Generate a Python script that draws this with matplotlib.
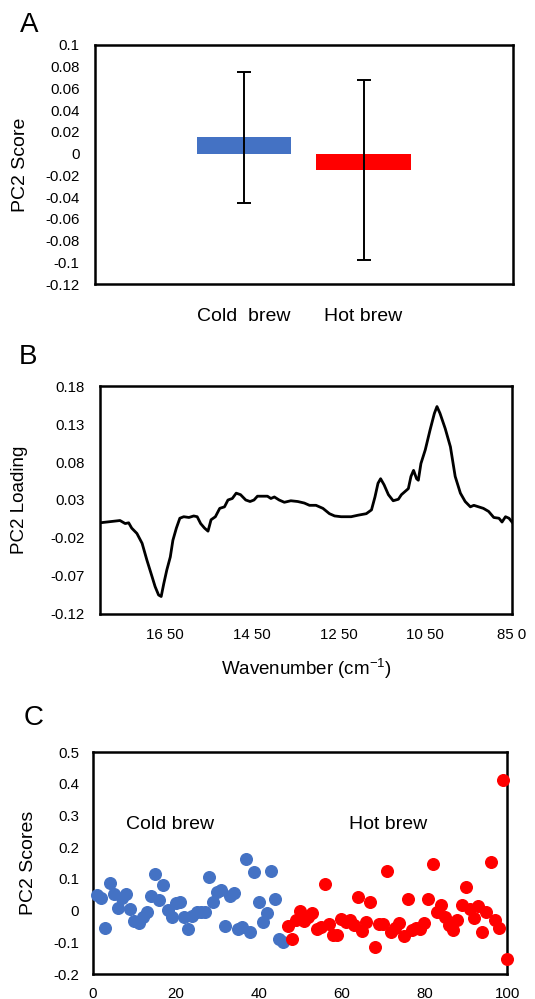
import matplotlib
matplotlib.use("Agg")
import matplotlib.pyplot as plt
import numpy as np

plt.rcParams['font.family'] = ['Liberation Sans', 'DejaVu Sans']

# ---- panel A data
groups = ['Cold  brew', 'Hot brew']
mean_scores = [0.015, -0.015]
score_err = [0.060, 0.083]
bar_colors = ['#4472C4', '#FF0000']

# ---- panel B data (wavenumber, loading)
wavenumber = [1800, 1777, 1754, 1742, 1734, 1727, 1715, 1703, 1692, 1680, 1673, 1665,
              1659, 1653, 1646, 1638, 1632, 1624, 1616, 1607, 1595, 1584, 1576, 1568,
              1559, 1551, 1544, 1534, 1524, 1513, 1505, 1495, 1486, 1476, 1464, 1454,
              1445, 1437, 1425, 1414, 1406, 1398, 1387, 1375, 1360, 1344, 1329, 1317,
              1302, 1286, 1271, 1259, 1244, 1221, 1205, 1186, 1174, 1166, 1159, 1153,
              1145, 1135, 1124, 1112, 1105, 1095, 1089, 1083, 1077, 1070, 1066, 1060,
              1050, 1039, 1029, 1023, 1016, 1004, 992, 981, 969, 958, 946, 938, 927,
              916, 904, 892, 880, 873, 865, 857, 850]
loading = [0.000, 0.0015, 0.003, -0.001, 0.000, -0.007, -0.014, -0.027, -0.049, -0.071,
           -0.084, -0.095, -0.097, -0.080, -0.062, -0.045, -0.023, -0.007, 0.006, 0.008,
           0.007, 0.009, 0.008, -0.001, -0.007, -0.011, 0.004, 0.008, 0.019, 0.021,
           0.030, 0.032, 0.039, 0.037, 0.030, 0.028, 0.030, 0.035, 0.035, 0.035, 0.032,
           0.034, 0.030, 0.027, 0.029, 0.028, 0.026, 0.023, 0.023, 0.019, 0.012, 0.009,
           0.008, 0.008, 0.010, 0.012, 0.017, 0.034, 0.052, 0.058, 0.050, 0.037, 0.029,
           0.031, 0.037, 0.042, 0.045, 0.061, 0.069, 0.058, 0.056, 0.078, 0.096, 0.122,
           0.144, 0.153, 0.144, 0.124, 0.100, 0.061, 0.039, 0.028, 0.021, 0.023, 0.021,
           0.019, 0.015, 0.007, 0.006, 0.001, 0.008, 0.006, 0.001]
wn_ticks = [1650, 1450, 1250, 1050, 850]
wn_labels = ['16 50', '14 50', '12 50', '10 50', '85 0']

# ---- panel C data
cold_scores = [0.050, 0.039, -0.054, 0.086, 0.053, 0.009, 0.041, 0.052, 0.005, -0.033,
               -0.040, -0.019, -0.003, 0.046, 0.115, 0.034, 0.081, 0.002, -0.021, 0.025,
               0.028, -0.021, -0.059, -0.017, -0.005, -0.004, -0.004, 0.105, 0.026, 0.060,
               0.065, -0.047, 0.046, 0.055, -0.057, -0.051, 0.162, -0.068, 0.123, 0.026,
               -0.037, -0.008, 0.126, 0.037, -0.089, -0.098]
hot_scores = [-0.047, -0.091, -0.029, -0.001, -0.032, -0.021, -0.006, -0.057, -0.051,
              0.083, -0.043, -0.078, -0.078, -0.027, -0.035, -0.029, -0.046, 0.044,
              -0.063, -0.035, 0.026, -0.116, -0.042, -0.042, 0.125, -0.066, -0.054,
              -0.040, -0.079, 0.036, -0.061, -0.056, -0.059, -0.038, 0.037, 0.147,
              -0.003, 0.018, -0.019, -0.045, -0.061, -0.029, 0.018, 0.073, 0.004,
              -0.024, 0.015, -0.068, -0.003, 0.153, -0.029, -0.056, 0.411, -0.154]
cold_idx = np.arange(1, len(cold_scores) + 1)
hot_idx = np.arange(len(cold_scores) + 1, len(cold_scores) + len(hot_scores) + 1)

fig = plt.figure(figsize=(5.35, 9.99), dpi=100, facecolor='white')


def style_box(ax):
    for s in ax.spines.values():
        s.set_linewidth(1.8)
        s.set_color('black')


# ---------------- A
axA = fig.add_axes([0.1776, 0.7157, 0.781, 0.2393])
xpos = np.arange(len(groups))
axA.bar(xpos, mean_scores, width=0.79, color=bar_colors, zorder=2)
axA.errorbar(xpos, mean_scores, yerr=score_err, fmt='none', ecolor='black',
             elinewidth=1.4, capsize=5, capthick=1.4, zorder=3)
axA.set_xlim(-1.25, 2.25)
axA.set_ylim(-0.12, 0.1)
axA.set_yticks(np.arange(-0.12, 0.101, 0.02))
axA.set_yticklabels(['-0.12', '-0.1', '-0.08', '-0.06', '-0.04', '-0.02', '0',
                     '0.02', '0.04', '0.06', '0.08', '0.1'])
axA.set_xticks(xpos)
axA.set_xticklabels(groups, fontsize=14)
axA.tick_params(axis='y', length=0, pad=11, labelsize=10.8)
axA.tick_params(axis='x', length=0, pad=17)
axA.set_ylabel('PC2 Score', fontsize=14)
axA.yaxis.set_label_coords(-0.158, 0.5)
style_box(axA)
fig.text(0.054, 0.975, 'A', fontsize=20, ha='center', va='center')

# ---------------- B
axB = fig.add_axes([0.187, 0.3854, 0.770, 0.2282])
axB.plot(wavenumber, loading, color='black', lw=2.0)
axB.set_xlim(1800, 850)
axB.set_ylim(-0.12, 0.18)
axB.set_yticks([-0.12, -0.07, -0.02, 0.03, 0.08, 0.13, 0.18])
axB.set_yticklabels(['-0.12', '-0.07', '-0.02', '0.03', '0.08', '0.13', '0.18'])
axB.set_xticks(wn_ticks)
axB.set_xticklabels(wn_labels)
axB.tick_params(axis='both', length=0, labelsize=10.8)
axB.tick_params(axis='y', pad=11)
axB.tick_params(axis='x', pad=10)
axB.set_ylabel('PC2 Loading', fontsize=13.5)
axB.yaxis.set_label_coords(-0.175, 0.5)
axB.set_xlabel('Wavenumber (cm$^{\\mathregular{-1}}$)', fontsize=13.5, labelpad=10)
style_box(axB)
fig.text(0.052, 0.643, 'B', fontsize=20, ha='center', va='center')

# ---------------- C
axC = fig.add_axes([0.1738, 0.025, 0.774, 0.2222])
axC.scatter(cold_idx, cold_scores, s=70, color='#4472C4', zorder=3, clip_on=False)
axC.scatter(hot_idx, hot_scores, s=70, color='#FF0000', zorder=3, clip_on=False)
axC.set_xlim(0, 100)
axC.set_ylim(-0.2, 0.5)
axC.set_yticks(np.arange(-0.2, 0.51, 0.1))
axC.set_yticklabels(['-0.2', '-0.1', '0', '0.1', '0.2', '0.3', '0.4', '0.5'])
axC.set_xticks([0, 20, 40, 60, 80, 100])
axC.tick_params(axis='both', length=0, labelsize=10.8)
axC.tick_params(axis='y', pad=10)
axC.tick_params(axis='x', pad=9)
axC.set_ylabel('PC2 Scores', fontsize=14)
axC.yaxis.set_label_coords(-0.135, 0.5)
axC.text(18.5, 0.27, 'Cold brew', fontsize=14, ha='center', va='center')
axC.text(71.3, 0.27, 'Hot brew', fontsize=14, ha='center', va='center')
style_box(axC)
fig.text(0.062, 0.281, 'C', fontsize=20, ha='center', va='center')

fig.savefig('out.png', dpi=100)
